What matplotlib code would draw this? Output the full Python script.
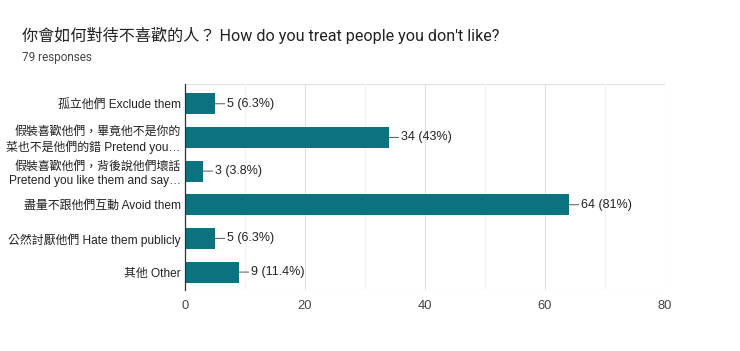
import matplotlib

matplotlib.use("Agg")
import matplotlib.pyplot as plt
from matplotlib.ticker import MultipleLocator

plt.rcParams["font.family"] = ["Liberation Sans", "Noto Sans CJK TC", "DejaVu Sans"]
TITLE_FONT = ["Roboto", "Noto Sans CJK TC", "DejaVu Sans"]

TITLE = "你會如何對待不喜歡的人？ How do you treat people you don't like?"
SUBTITLE = "79 responses"

categories = [
    "孤立他們 Exclude them",
    "假裝喜歡他們，畢竟他不是你的\n菜也不是他們的錯 Pretend you…",
    "假裝喜歡他們，背後說他們壞話\nPretend you like them and say…",
    "盡量不跟他們互動 Avoid them",
    "公然討厭他們 Hate them publicly",
    "其他 Other",
]
counts = [5, 34, 3, 64, 5, 9]
labels = ["5 (6.3%)", "34 (43%)", "3 (3.8%)", "64 (81%)", "5 (6.3%)", "9 (11.4%)"]

BAR_COLOR = "#0b737f"
TEXT = "#222222"

fig = plt.figure(figsize=(7.4, 3.51), dpi=100)
ax = fig.add_axes([0.25, 0.174, 0.6486, 0.587])

ypos = list(range(len(categories)))
ax.barh(ypos, counts, height=0.62, color=BAR_COLOR, zorder=3)

for y, v, lab in zip(ypos, counts, labels):
    ax.annotate(
        lab,
        xy=(v, y),
        xytext=(9, 0),
        textcoords="offset points",
        ha="left",
        va="center",
        fontsize=9,
        color=TEXT,
        arrowprops=dict(arrowstyle="-", color="#555555", lw=0.7, shrinkA=0, shrinkB=0),
        zorder=4,
    )

ax.set_xlim(0, 80)
ax.set_ylim(len(categories) - 0.47, -0.59)
ax.set_yticks(ypos)
ax.set_yticklabels(categories, fontsize=8.6, color=TEXT, linespacing=1.25)
ax.xaxis.set_major_locator(MultipleLocator(20))
ax.xaxis.set_minor_locator(MultipleLocator(10))
ax.tick_params(axis="x", which="both", length=0, labelsize=9.3, labelcolor="#444444", pad=7)
ax.tick_params(axis="y", length=0, pad=3)

ax.grid(axis="x", which="major", color="#e0e0e0", lw=0.8, zorder=0)
ax.grid(axis="x", which="minor", color="#f3f3f3", lw=0.8, zorder=0)
for side in ["top", "bottom", "right"]:
    ax.spines[side].set_visible(False)
ax.spines["left"].set_color("#333333")
ax.spines["left"].set_linewidth(0.9)
ax.spines["left"].set_zorder(5)
ax.axhline(-0.59, color="#e0e0e0", lw=0.8, zorder=0)
ax.axhline(len(categories) - 0.47, color="#e0e0e0", lw=0.8, zorder=0)

fig.text(22 / 740, 1 - 35 / 351, TITLE, fontsize=11.6, color=TEXT, va="center",
         ha="left", family=TITLE_FONT)
fig.text(22 / 740, 1 - 57 / 351, SUBTITLE, fontsize=8.5, color="#444444", va="center",
         ha="left", family=TITLE_FONT)

fig.savefig("out.png", dpi=100, facecolor="white")
